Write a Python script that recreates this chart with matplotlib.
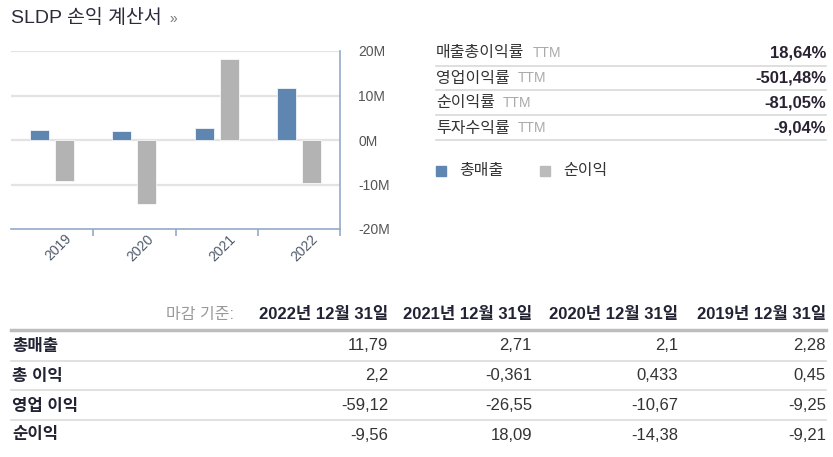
import matplotlib
matplotlib.use("Agg")
import matplotlib.pyplot as plt
import matplotlib.transforms as mtransforms
from matplotlib.lines import Line2D

"""
SLDP 손익 계산서: bar chart + ratio table + yearly table
"""

years = ["2019", "2020", "2021", "2022"]
revenue = [2.28, 2.1, 2.71, 11.79]        # 총매출 (M)
net_income = [-9.21, -14.38, 18.09, -9.56]  # 순이익 (M)
y_ticks = [-20, -10, 0, 10, 20]
y_tick_labels = ["-20M", "-10M", "0M", "10M", "20M"]

ratio_names = ["매출총이익률", "영업이익률", "순이익률", "투자수익률"]
ratio_values = ["18,64%", "-501,48%", "-81,05%", "-9,04%"]

table_dates = ["2022년 12월 31일", "2021년 12월 31일", "2020년 12월 31일", "2019년 12월 31일"]
table_rows = ["총매출", "총 이익", "영업 이익", "순이익"]
table_values = [
    ["11,79", "2,71", "2,1", "2,28"],
    ["2,2", "-0,361", "0,433", "0,45"],
    ["-59,12", "-26,55", "-10,67", "-9,25"],
    ["-9,56", "18,09", "-14,38", "-9,21"],
]

W, H = 833, 457
FAM = ["Liberation Sans", "Noto Sans CJK KR"]
BLUE = "#5f86b1"
GRAY = "#b3b3b3"
AXIS = "#93a9c8"


def fx(x):
    return x / W


def fy(y):
    return 1 - y / H


def hline(fig, x0, x1, y, color, lw):
    fig.add_artist(Line2D([fx(x0), fx(x1)], [fy(y), fy(y)], color=color,
                          linewidth=lw, transform=fig.transFigure))


def main():
    plt.rcParams["font.family"] = FAM
    fig = plt.figure(figsize=(W / 100, H / 100), dpi=100)
    renderer = fig.canvas.get_renderer()

    # title
    fig.text(fx(11), fy(18), "SLDP 손익 계산서", fontsize=14, color="#2b2b3b",
             va="center", ha="left")
    fig.text(fx(169), fy(19), "»", fontsize=10, color="#777777", va="center")

    # chart
    left, right, top, bottom = 11, 340, 51, 229
    ax = fig.add_axes([fx(left), fy(bottom), (right - left) / W, (bottom - top) / H])
    x = list(range(len(years)))
    off = 0.152
    bw = 0.23
    ax.bar([i - off for i in x], revenue, width=bw, color=BLUE, edgecolor="white",
           linewidth=0.5, zorder=3)
    ax.bar([i + off for i in x], net_income, width=bw, color=GRAY, edgecolor="white",
           linewidth=0.5, zorder=3)
    ax.set_xlim(-0.5, 3.5)
    ax.set_ylim(-20, 20)
    for v in y_ticks[1:]:
        ax.axhline(v, color="#e3e3e3", linewidth=1.6, zorder=1)

    for s in ["left", "top"]:
        ax.spines[s].set_visible(False)
    ax.spines["right"].set_color(AXIS)
    ax.spines["bottom"].set_color(AXIS)
    ax.spines["right"].set_linewidth(1.2)
    ax.spines["bottom"].set_linewidth(1.2)

    ax.yaxis.tick_right()
    ax.set_yticks(y_ticks)
    ax.set_yticklabels(y_tick_labels, fontsize=10, color="#555555",
                       family="Liberation Sans")
    ax.tick_params(axis="y", length=0, pad=13)

    ax.set_xticks(x)
    ax.set_xticklabels(years, rotation=45, fontsize=10, color="#505a6a",
                       ha="center", family="Liberation Sans")
    ax.tick_params(axis="x", which="major", length=0, pad=2)
    ax.set_xticks([0.5, 1.5, 2.5, 3.5], minor=True)
    ax.tick_params(axis="x", which="minor", length=5, width=1.2, color=AXIS,
                   direction="out")
    shift = mtransforms.ScaledTranslation(6 / 100, 0, fig.dpi_scale_trans)
    for lab in ax.get_xticklabels():
        lab.set_transform(lab.get_transform() + shift)

    # ratio table
    row_y = [53, 78, 103, 128]
    line_y = [66, 90, 115, 140]
    for name, val, yy, ly in zip(ratio_names, ratio_values, row_y, line_y):
        t = fig.text(fx(436), fy(yy), name, fontsize=11.5, color="#333333",
                     va="center", ha="left")
        ext = t.get_window_extent(renderer)
        fig.text(ext.x1 / W + fx(8), fy(yy), "TTM", fontsize=10,
                 color="#aaaaaa", va="center", ha="left")
        fig.text(fx(826), fy(yy), val, fontsize=12, color="#2a2233",
                 fontweight="bold", va="center", ha="right")
        hline(fig, 436, 826, ly, "#d9d9d9", 1.2)

    # legend
    fig.add_artist(plt.Rectangle((fx(436), fy(176)), 10 / W, 10 / H, color=BLUE,
                                 transform=fig.transFigure))
    fig.text(fx(459), fy(171), "총매출", fontsize=11.5, color="#333333", va="center")
    fig.add_artist(plt.Rectangle((fx(540), fy(176)), 10 / W, 10 / H, color="#bbbbbb",
                                 transform=fig.transFigure))
    fig.text(fx(563), fy(171), "순이익", fontsize=11.5, color="#333333", va="center")

    # yearly table
    col_r = [388, 532, 678, 826]
    fig.text(fx(234), fy(314), "마감 기준:", fontsize=11.5, color="#999999",
             va="center", ha="right")
    for d, cx in zip(table_dates, col_r):
        fig.text(fx(cx), fy(314), d, fontsize=12, color="#222233",
                 fontweight="bold", va="center", ha="right")
    hline(fig, 11, 826, 330, "#bdbdbd", 2.5)

    rows_y = [346, 376, 406, 435]
    sep_y = [361, 390, 420]
    for i, (name, yy) in enumerate(zip(table_rows, rows_y)):
        fig.text(fx(12), fy(yy), name, fontsize=12, color="#222233",
                 fontweight="bold", va="center", ha="left")
        for val, cx in zip(table_values[i], col_r):
            fig.text(fx(cx), fy(yy), val, fontsize=12, color="#333333",
                     va="center", ha="right")
        if i < len(sep_y):
            hline(fig, 11, 826, sep_y[i], "#dcdcdc", 1.2)

    fig.savefig("out.png", dpi=100)


if __name__ == "__main__":
    main()
